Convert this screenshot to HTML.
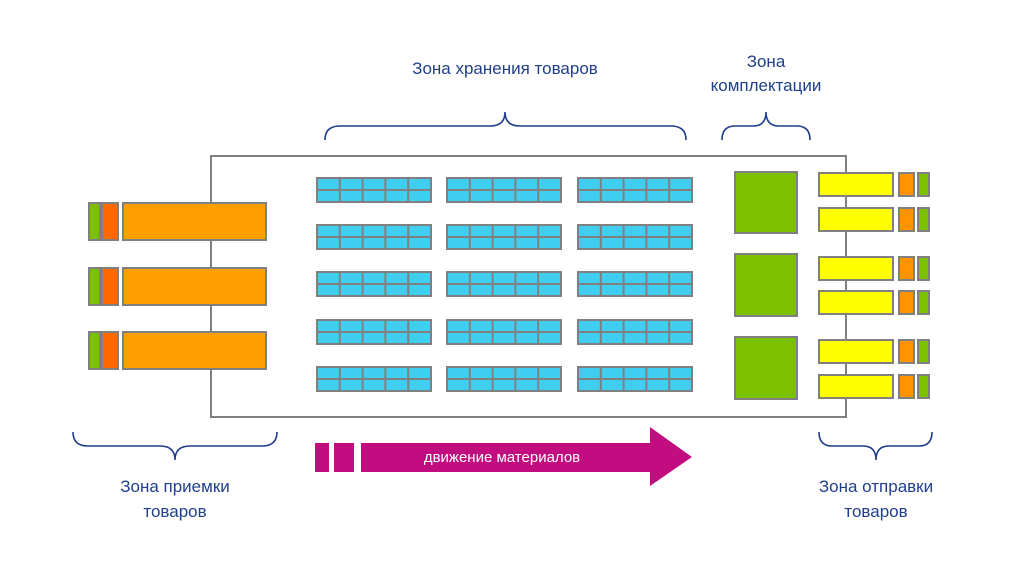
<!DOCTYPE html>
<html><head><meta charset="utf-8"><style>
html,body{margin:0;padding:0;background:#fff;}
svg{display:block;}
text{font-family:"Liberation Sans","DejaVu Sans",sans-serif;fill:#1f3f8c;font-size:17px;}
</style></head><body>
<svg width="1024" height="574" viewBox="0 0 1024 574" xmlns="http://www.w3.org/2000/svg">
<defs>
<g id="rack">
<rect x="0" y="0" width="114" height="24" fill="#3fcdf0" stroke="#808080" stroke-width="2"/>
<path d="M0 12H114M22.8 0V24M45.6 0V24M68.4 0V24M91.2 0V24" stroke="#808080" stroke-width="2"/>
</g>
<g id="rrow"><use href="#rack" x="317"/><use href="#rack" x="447"/><use href="#rack" x="578"/></g>
<g id="ldock">
<rect x="89" y="0" width="11" height="37" fill="#7dc000" stroke="#808080" stroke-width="2"/>
<rect x="102" y="0" width="16" height="37" fill="#ff6a00" stroke="#808080" stroke-width="2"/>
<rect x="123" y="0" width="143" height="37" fill="#ff9f00" stroke="#808080" stroke-width="2"/>
</g>
<g id="rdock">
<rect x="819" y="0" width="74" height="23" fill="#ffff00" stroke="#808080" stroke-width="2"/>
<rect x="899" y="0" width="15" height="23" fill="#ff9400" stroke="#808080" stroke-width="2"/>
<rect x="918" y="0" width="11" height="23" fill="#7dc000" stroke="#808080" stroke-width="2"/>
</g>
</defs>
<rect x="211" y="156" width="635" height="261" fill="none" stroke="#808080" stroke-width="2"/>
<use href="#rrow" y="178"/><use href="#rrow" y="225"/><use href="#rrow" y="272"/><use href="#rrow" y="320"/><use href="#rrow" y="367"/>
<use href="#ldock" y="203"/><use href="#ldock" y="268"/><use href="#ldock" y="332"/>
<rect x="735" y="172" width="62" height="61" fill="#7dc000" stroke="#808080" stroke-width="2"/>
<rect x="735" y="254" width="62" height="62" fill="#7dc000" stroke="#808080" stroke-width="2"/>
<rect x="735" y="337" width="62" height="62" fill="#7dc000" stroke="#808080" stroke-width="2"/>
<use href="#rdock" y="173"/><use href="#rdock" y="208"/><use href="#rdock" y="257"/><use href="#rdock" y="291"/><use href="#rdock" y="340"/><use href="#rdock" y="375"/>
<g fill="none" stroke="#1f3f8c" stroke-width="1.6">
<path d="M325 140 Q325 126 340 126 H490 Q505 126 505 112 Q505 126 520 126 H671 Q686 126 686 140"/>
<path d="M722 140 Q722 126 735 126 H753 Q766 126 766 112 Q766 126 779 126 H797 Q810 126 810 140"/>
<path d="M73 432 Q73 446 88 446 H160 Q175 446 175 460 Q175 446 190 446 H262 Q277 446 277 432"/>
<path d="M819 432 Q819 446 832 446 H863 Q876 446 876 460 Q876 446 889 446 H919 Q932 446 932 432"/>
</g>
<g fill="#c20d80">
<rect x="315" y="443" width="14" height="29"/>
<rect x="334" y="443" width="20" height="29"/>
<polygon points="361,443 650,443 650,427 692,457 650,486 650,472 361,472"/>
</g>
<text x="502" y="462" text-anchor="middle" style="fill:#fff;font-size:15px">движение материалов</text>
<text x="505" y="74" text-anchor="middle">Зона хранения товаров</text>
<text x="766" y="67" text-anchor="middle">Зона</text>
<text x="766" y="91" text-anchor="middle">комплектации</text>
<text x="175" y="492" text-anchor="middle">Зона приемки</text>
<text x="175" y="517" text-anchor="middle">товаров</text>
<text x="876" y="492" text-anchor="middle">Зона отправки</text>
<text x="876" y="517" text-anchor="middle">товаров</text>
</svg>
</body></html>
